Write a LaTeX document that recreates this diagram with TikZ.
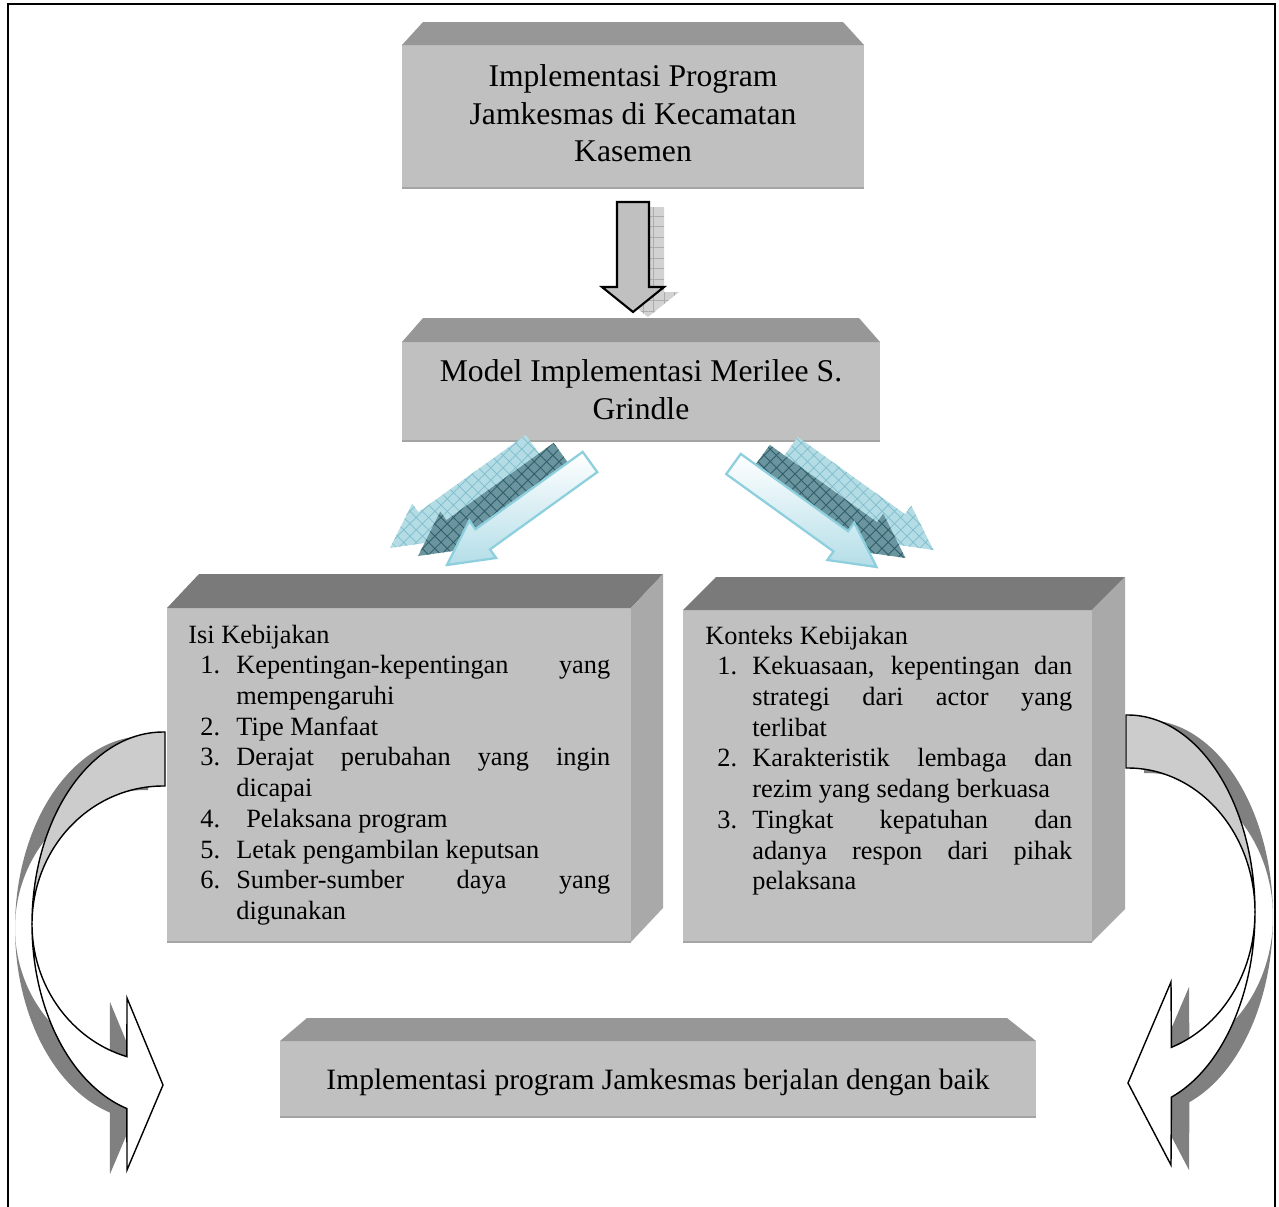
\documentclass[tikz,border=0pt]{standalone}
\usepackage{fontspec}
\setmainfont{Liberation Serif}
\usetikzlibrary{patterns.meta}
\definecolor{frontgray}{HTML}{C0C0C0}
\definecolor{bevelgray}{HTML}{979797}
\definecolor{topdark}{HTML}{7A7A7A}
\definecolor{sidegray}{HTML}{A9A9A9}
\definecolor{edgegray}{HTML}{A4A4A4}
\definecolor{bandgray}{HTML}{CCCCCC}
\definecolor{shadowgray}{HTML}{808080}
\definecolor{tealdark}{HTML}{6A949E}
\definecolor{tealgrid}{HTML}{2F5F6B}
\definecolor{teallight}{HTML}{B3DCE5}
\definecolor{teallightgrid}{HTML}{7FBDCC}
\definecolor{blueline}{HTML}{8ECFDE}
\definecolor{bluefill}{HTML}{B4DEE8}
\newcommand\jl[1]{\makebox[\linewidth][s]{#1}}
\tikzset{
  face/.style={fill=frontgray},
  bevel/.style={fill=bevelgray},
  boxtop/.style={fill=topdark},
  boxside/.style={fill=sidegray},
  edge/.style={draw=edgegray, line width=1.2pt},
  bigtext/.style={inner sep=0pt, anchor=base, font=\fontsize{18}{21.3}\selectfont},
  listtext/.style={inner sep=0pt, anchor=base west, font=\fontsize{15}{17.5}\selectfont},
  outline/.style={draw=black, line width=0.8pt},
  diagL/.style={insert path={(582.7,451.9) -- (475.4,529.2) -- (469.3,520.6) -- (447,565) -- (496.1,558.0) -- (490.0,549.4) -- (597.3,472.1) -- cycle}},
  downarr/.style={insert path={(617,202) -- (649,202) -- (649,287) -- (664,287) -- (633,312) -- (602,287) -- (617,287) -- cycle}},
}
\begin{document}
\begin{tikzpicture}[x=0.02cm, y=-0.02cm, line join=miter]
\useasboundingbox (0,0) rectangle (1279,1207);
\fill[white] (0,0) rectangle (1279,1207);

% frame
\draw[line width=1.1pt] (8,1215) -- (8,4) -- (1275,4) -- (1275,1215);

% ---------- left curved arrow ----------
\begin{scope}[shift={(-17,4)}]
  \fill[shadowgray] (165,732) -- plot[domain=270:180,samples=60,variable=\t] ({163+131*cos(\t)},{924+192*sin(\t)})
     -- plot[domain=180:270,samples=60,variable=\t] ({163+131*cos(\t)},{924+138*sin(\t)}) -- (165,786) -- cycle;
  \fill[shadowgray] plot[domain=180:106,samples=60,variable=\t] ({163+131*cos(\t)},{924+192*sin(\t)})
     -- (127,1170) -- (163,1085) -- (127,998)
     -- plot[domain=106:180,samples=60,variable=\t] ({163+131*cos(\t)},{924+138*sin(\t)}) -- cycle;
\end{scope}
\path[fill=bandgray, outline] (165,732) -- plot[domain=270:180,samples=60,variable=\t] ({163+131*cos(\t)},{924+192*sin(\t)})
   -- plot[domain=180:270,samples=60,variable=\t] ({163+131*cos(\t)},{924+138*sin(\t)}) -- (165,786) -- cycle;
\path[fill=white, outline] plot[domain=180:106,samples=60,variable=\t] ({163+131*cos(\t)},{924+192*sin(\t)})
   -- (127,1170) -- (163,1085) -- (127,998)
   -- plot[domain=106:180,samples=60,variable=\t] ({163+131*cos(\t)},{924+138*sin(\t)}) -- cycle;

% ---------- right curved arrow ----------
\begin{scope}[shift={(18,5)}]
  \fill[shadowgray] (1126,715) -- plot[domain=-90:0,samples=60,variable=\t] ({1128+127*cos(\t)},{912+197*sin(\t)})
     -- plot[domain=0:-90,samples=60,variable=\t] ({1128+127*cos(\t)},{912+144*sin(\t)}) -- (1126,768) -- cycle;
  \fill[shadowgray] plot[domain=0:70,samples=60,variable=\t] ({1128+127*cos(\t)},{912+197*sin(\t)})
     -- (1171,1165) -- (1128,1083) -- (1171,982)
     -- plot[domain=70:0,samples=60,variable=\t] ({1128+127*cos(\t)},{912+144*sin(\t)}) -- cycle;
\end{scope}
\path[fill=bandgray, outline] (1126,715) -- plot[domain=-90:0,samples=60,variable=\t] ({1128+127*cos(\t)},{912+197*sin(\t)})
   -- plot[domain=0:-90,samples=60,variable=\t] ({1128+127*cos(\t)},{912+144*sin(\t)}) -- (1126,768) -- cycle;
\path[fill=white, outline] plot[domain=0:70,samples=60,variable=\t] ({1128+127*cos(\t)},{912+197*sin(\t)})
   -- (1171,1165) -- (1128,1083) -- (1171,982)
   -- plot[domain=70:0,samples=60,variable=\t] ({1128+127*cos(\t)},{912+144*sin(\t)}) -- cycle;

% ---------- top box ----------
\fill[face] (402,45) rectangle (864,188);
\fill[bevel] (402,45) -- (423,22) -- (843,22) -- (864,45) -- cycle;
\draw[edge] (402,188) -- (864,188);
\node[bigtext] (t1) at (633,86.7) {\begin{tabular}[t]{@{}c@{}}Implementasi Program\\Jamkesmas di Kecamatan\\Kasemen\end{tabular}};

% ---------- down arrow ----------
\fill[gray!35, shift={(15,5)}, downarr];
\fill[pattern={Hatch[angle=0,distance=6pt,line width=0.5pt]}, pattern color=gray!65, shift={(15,5)}, downarr];
\path[fill=frontgray, outline, line width=1.2pt, downarr];

% ---------- model box ----------
\fill[face] (402,342) rectangle (880,441);
\fill[bevel] (402,342) -- (423,318) -- (859,318) -- (880,342) -- cycle;
\draw[edge] (402,441) -- (880,441);
\node[bigtext] (t2) at (641,381.7) {\begin{tabular}[t]{@{}c@{}}Model Implementasi Merilee S.\\Grindle\end{tabular}};

% ---------- diagonal arrows (left) ----------
\fill[teallight, shift={(-57,-17)}, diagL];
\fill[pattern={Hatch[angle=45,distance=5pt,line width=0.4pt]}, pattern color=teallightgrid, shift={(-57,-17)}, diagL];
\fill[tealdark, shift={(-29,-9)}, diagL];
\fill[pattern={Hatch[angle=45,distance=5pt,line width=0.5pt]}, pattern color=tealgrid, shift={(-29,-9)}, diagL];
\shadedraw[top color=white, bottom color=bluefill, draw=blueline, line width=1.3pt, diagL];

% ---------- diagonal arrows (right, mirrored) ----------
\begin{scope}[shift={(1323.5,2)}, xscale=-1]
\fill[teallight, shift={(-57,-17)}, diagL];
\fill[pattern={Hatch[angle=45,distance=5pt,line width=0.4pt]}, pattern color=teallightgrid, shift={(-57,-17)}, diagL];
\fill[tealdark, shift={(-29,-9)}, diagL];
\fill[pattern={Hatch[angle=45,distance=5pt,line width=0.5pt]}, pattern color=tealgrid, shift={(-29,-9)}, diagL];
\shadedraw[top color=white, bottom color=bluefill, draw=blueline, line width=1.3pt, diagL];
\end{scope}

% ---------- left 3D box ----------
\fill[face] (167,608) rectangle (631,942);
\fill[boxtop] (167,608) -- (199,574) -- (663,574) -- (631,608) -- cycle;
\fill[boxside] (631,608) -- (663,574) -- (663,908) -- (631,942) -- cycle;
\draw[edge] (167,942) -- (631,942);
\node[listtext] (isi) at (188,643) {\begin{tabular}[t]{@{}p{0.24cm}@{}p{0.72cm}@{}p{7.48cm}@{}}
\multicolumn{3}{@{}l@{}}{Isi Kebijakan}\\
 & 1. & \jl{Kepentingan-kepentingan yang}\\
 & & mempengaruhi\\
 & 2. & Tipe Manfaat\\
 & 3. & \jl{Derajat perubahan yang ingin}\\
 & & dicapai\\
 & 4. & \hspace*{0.2cm}Pelaksana program\\
 & 5. & Letak pengambilan keputsan\\
 & 6. & \jl{Sumber-sumber daya yang}\\
 & & digunakan
\end{tabular}};

% ---------- right 3D box ----------
\fill[face] (683,610) rectangle (1092,942);
\fill[boxtop] (683,610) -- (716,577) -- (1125,577) -- (1092,610) -- cycle;
\fill[boxside] (1092,610) -- (1125,577) -- (1125,909) -- (1092,942) -- cycle;
\draw[edge] (683,942) -- (1092,942);
\node[listtext] (konteks) at (705,644) {\begin{tabular}[t]{@{}p{0.24cm}@{}p{0.70cm}@{}p{6.40cm}@{}}
\multicolumn{3}{@{}l@{}}{Konteks Kebijakan}\\
 & 1. & \jl{Kekuasaan, kepentingan dan}\\
 & & \jl{strategi dari actor yang}\\
 & & terlibat\\
 & 2. & \jl{Karakteristik lembaga dan}\\
 & & rezim yang sedang berkuasa\\
 & 3. & \jl{Tingkat kepatuhan dan}\\
 & & \jl{adanya respon dari pihak}\\
 & & pelaksana
\end{tabular}};

% ---------- bottom box ----------
\fill[face] (280,1041) rectangle (1036,1117);
\fill[bevel] (280,1041) -- (307,1018) -- (1007,1018) -- (1036,1041) -- cycle;
\draw[edge] (280,1117) -- (1036,1117);
\node[bigtext, font=\fontsize{16.8}{19}\selectfont] (hasil) at (658,1089) {Implementasi program Jamkesmas berjalan dengan baik};

\end{tikzpicture}
\end{document}
